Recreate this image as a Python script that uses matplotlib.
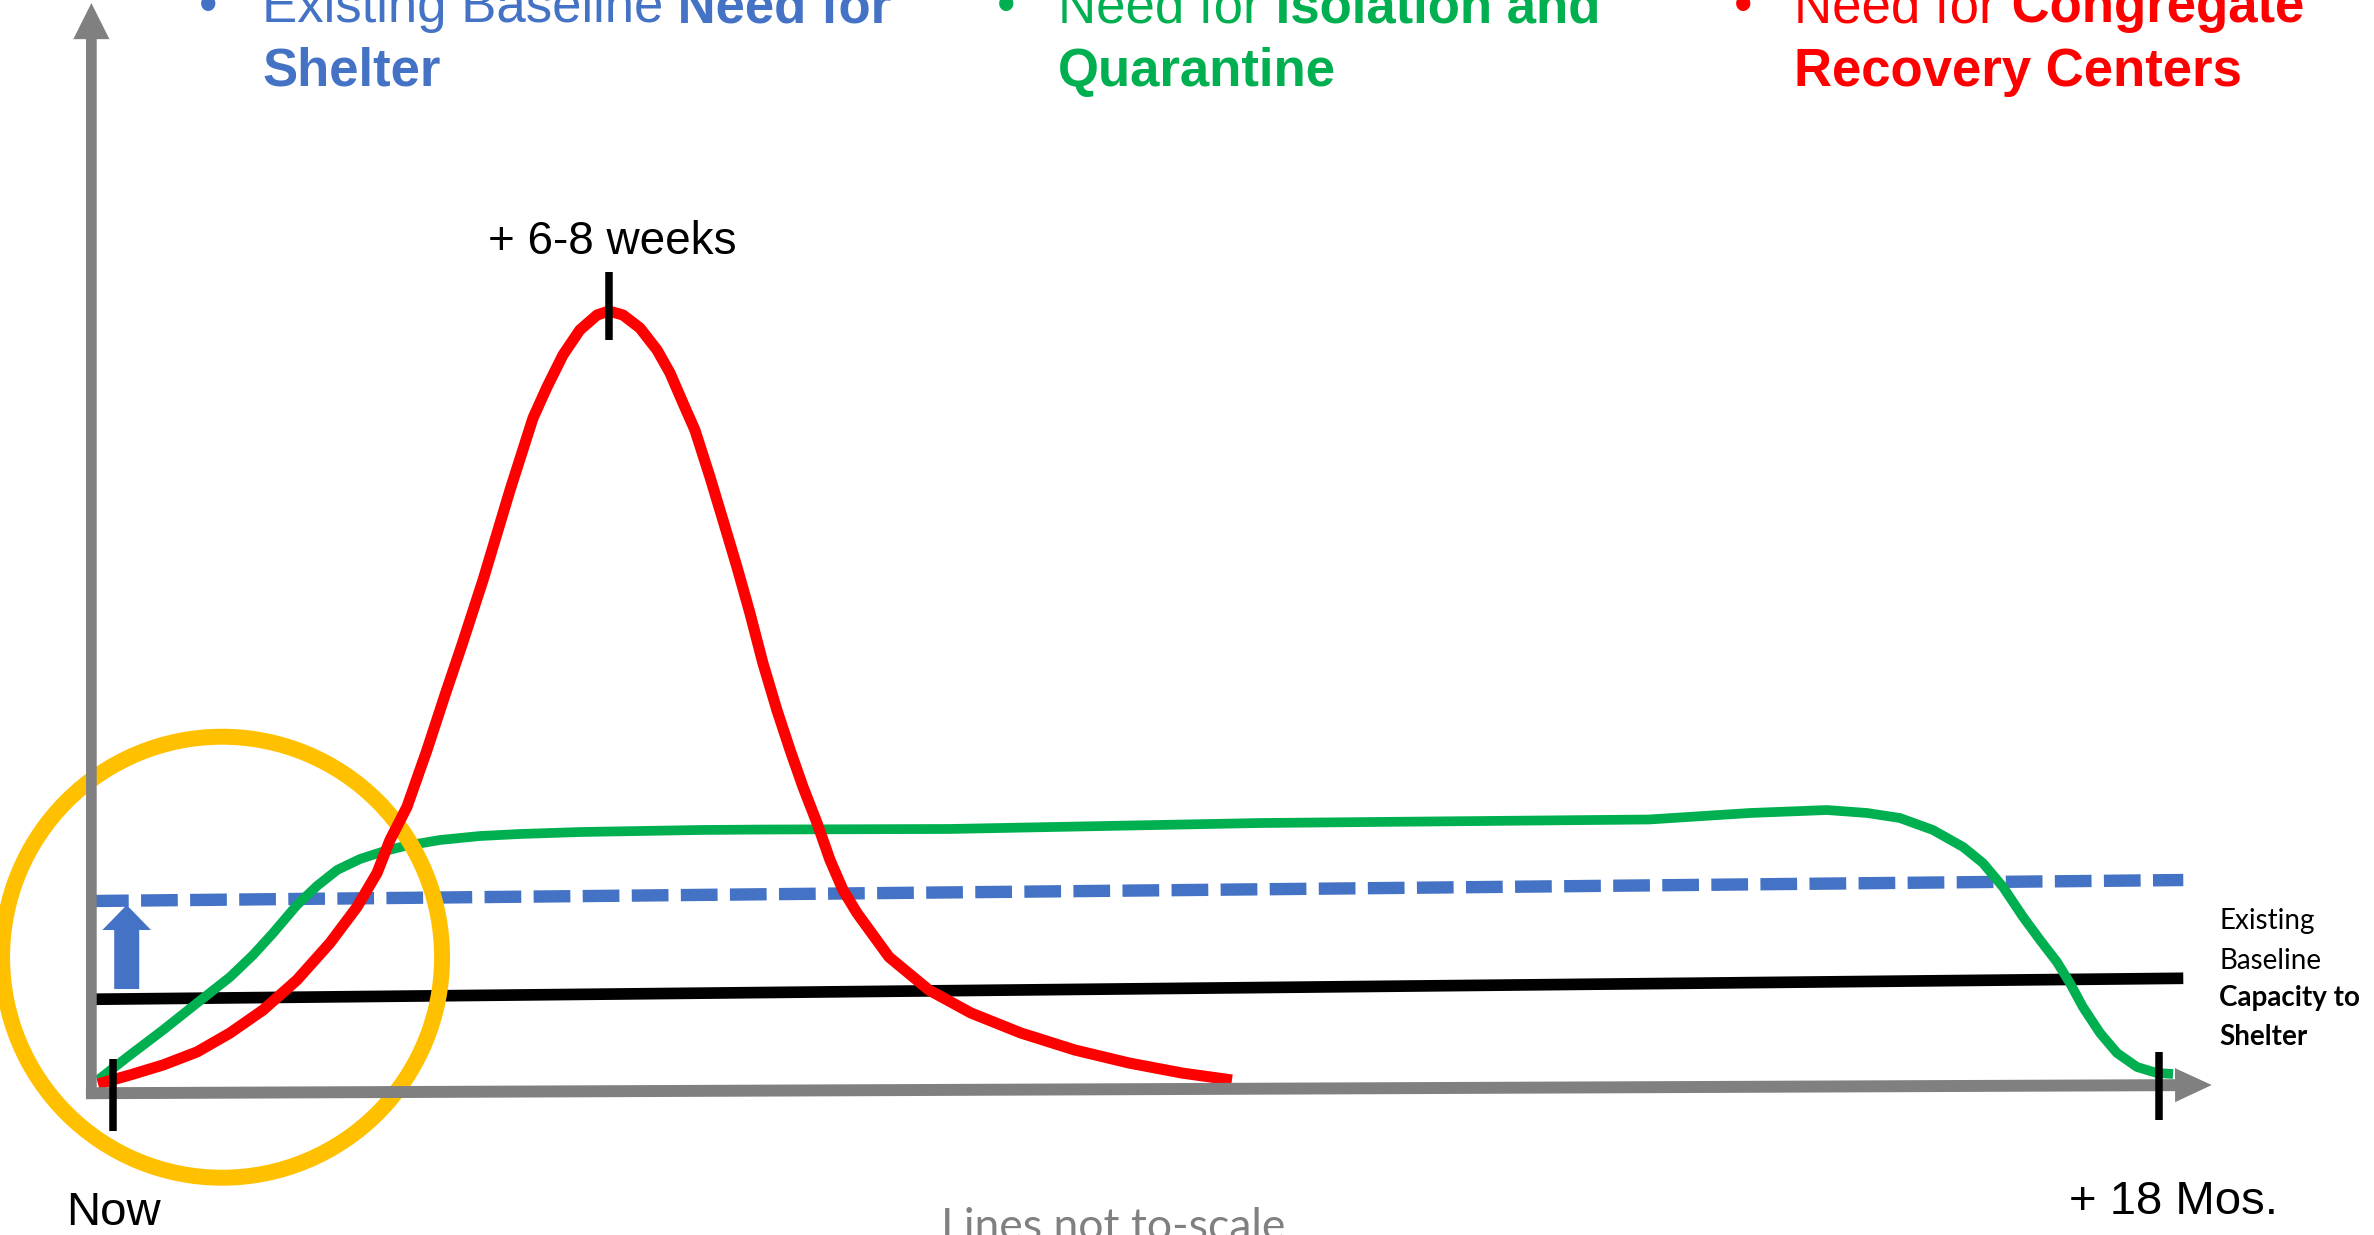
import matplotlib
matplotlib.use("Agg")
import matplotlib.pyplot as plt
from matplotlib.patches import Ellipse, FancyArrowPatch

plt.rcParams["font.family"] = ["Liberation Sans", "DejaVu Sans"]

# DATA
# time axis: 0 = now, 100 = +18 months (not to scale)
# need axis: 0 = none, 100 = peak of congregate recovery need

recovery_t = [0.29, 1.82, 3.40, 5.02, 6.60, 8.18, 9.80, 11.38, 12.67, 13.63,
              14.25, 15.06, 16.02, 16.88, 17.69, 18.70, 19.99, 21.09, 21.76, 22.52,
              23.33, 24.15, 24.72, 25.39, 26.20, 27.02, 27.64, 28.26, 28.83, 29.55,
              30.17, 30.84, 31.46, 32.08, 32.75, 33.38, 34.00, 34.67, 35.29, 35.91,
              36.58, 38.11, 40.02, 42.03, 44.42, 47.00, 49.59, 52.12, 54.51]
recovery_need = [1.15, 2.30, 3.58, 5.24, 7.66, 10.60, 14.43, 19.16, 23.75, 28.10,
                 32.31, 36.53, 43.81, 50.83, 57.22, 65.52, 77.01, 86.21, 90.17, 94.25,
                 97.45, 99.36, 99.87, 99.36, 97.70, 94.89, 91.95, 88.12, 84.67, 78.67,
                 73.18, 67.18, 61.30, 54.92, 48.91, 43.81, 39.08, 34.48, 29.76, 25.93,
                 22.99, 17.37, 13.15, 10.22, 7.66, 5.49, 3.83, 2.55, 1.66]

isolation_t = [0.29, 1.82, 3.40, 5.02, 6.60, 7.70, 8.66, 9.80, 10.76, 11.72,
               12.82, 14.01, 14.97, 16.64, 18.55, 20.47, 23.33, 29.07, 32.18, 41.03,
               55.85, 74.45, 79.28, 82.96, 84.88, 86.45, 88.03, 89.47, 90.42, 91.38,
               92.34, 93.15, 93.96, 94.58, 95.20, 96.02, 96.83, 97.79, 98.74, 99.51]
isolation_need = [1.66, 4.85, 8.05, 11.49, 14.81, 17.62, 20.43, 24.01, 26.44, 28.48,
                  29.89, 30.91, 31.55, 32.31, 32.82, 33.08, 33.33, 33.59, 33.65, 33.72,
                  34.48, 34.93, 35.76, 36.14, 35.76, 35.12, 33.59, 31.42, 29.37, 26.31,
                  22.48, 19.54, 16.73, 14.05, 10.98, 7.66, 5.11, 3.32, 2.55, 2.43]

shelter_need_t = [0, 100]
shelter_need = [24.52, 27.20]

capacity_t = [0, 100]
capacity = [11.97, 14.65]

tick_t = [1.00, 24.72, 98.84]
tick_lo = [-4.85, 96.17, -3.45]
tick_hi = [4.30, 104.89, 5.24]

BLUE = "#4472C4"
GREEN = "#00B050"
RED = "#FF0000"
ORANGE = "#FFC000"
GRAY = "#808080"

# FIGURE

fig = plt.figure(figsize=(23.74, 12.35), dpi=100)
ax = fig.add_axes([0, 0, 1, 1])
ax.set_xlim(-4.399, 109.12)
ax.set_ylim(-18.135, 139.59)
ax.axis("off")


def arrow(x0, y0, x1, y1, style, color, z=4):
    ax.add_patch(FancyArrowPatch((x0, y0), (x1, y1), arrowstyle=style,
                                 mutation_scale=1, color=color, lw=0,
                                 shrinkA=0, shrinkB=0, zorder=z))


# lines
ax.plot(shelter_need_t, shelter_need, color=BLUE, lw=8.9, dashes=(2.97, 1.0), zorder=2)
ax.plot(capacity_t, capacity, color="black", lw=8.4, solid_capstyle="butt", zorder=2)
ax.plot(isolation_t, isolation_need, color=GREEN, lw=7.0, solid_capstyle="butt",
        solid_joinstyle="round", zorder=3)

# "now" circle
ax.add_patch(Ellipse((6.22, 17.34), 21.04, 56.32, fill=False, edgecolor=ORANGE,
                     lw=11.5, zorder=3.5))

ax.plot(recovery_t, recovery_need, color=RED, lw=8.0, solid_capstyle="butt",
        solid_joinstyle="round", zorder=3.7)

# axes with arrow heads
arrow(-0.03, -0.77, -0.03, 139.2, "simple,head_length=26,head_width=26,tail_width=7.7", GRAY)
arrow(-0.29, -0.03, 101.36, 1.02, "simple,head_length=26.4,head_width=24.5,tail_width=8.6", GRAY)

# increase in baseline need
arrow(1.66, 13.28, 1.66, 24.01, "simple,head_length=18,head_width=35,tail_width=18", BLUE)

# milestone ticks
for t, lo, hi in zip(tick_t, tick_lo, tick_hi):
    ax.plot([t, t], [lo, hi], color="black", lw=5.4, solid_capstyle="butt", zorder=5)

ax.text(24.87, 107.15, "+ 6-8 weeks", fontsize=33, ha="center", va="baseline")
ax.text(1.04, -16.86, "Now", fontsize=34, ha="center", va="baseline")
ax.text(99.51, -15.40, "+ 18 Mos.", fontsize=34, ha="center", va="baseline")
ax.text(48.84, -18.77, "Lines not to-scale", fontsize=32, ha="center", va="baseline",
        color=GRAY, family=["Lato", "DejaVu Sans"])

side_lines = [("Existing", "normal", 20.89), ("Baseline", "normal", 15.89),
              ("Capacity to", "bold", 11.11), ("Shelter", "bold", 6.17)]
for s, w, y in side_lines:
    ax.text(101.73, y, s, fontsize=20, fontweight=w, ha="left", va="baseline",
            family=["Lato", "DejaVu Sans"])


# HEADERS

def rich(x, y, parts, color, size=38):
    t = ax.text(x, y, parts[0][0], color=color, fontsize=size, fontweight=parts[0][1],
                ha="left", va="baseline")
    for s, w in parts[1:]:
        t = ax.annotate(s, xy=(1, 0), xycoords=t, color=color, fontsize=size,
                        fontweight=w, ha="left", va="bottom")


headers = [
    (5.55, 8.13, BLUE, [("Existing Baseline", "normal"), (" Need for", "bold")],
     [("Shelter", "bold")]),
    (43.71, 46.19, GREEN, [("Need for", "normal"), (" Isolation and", "bold")],
     [("Quarantine", "bold")]),
    (78.95, 81.39, RED, [("Need for", "normal"), (" Congregate", "bold")],
     [("Recovery Centers", "bold")]),
]
for bx, tx, col, line1, line2 in headers:
    ax.text(bx, 136.78, "\u2022", color=col, fontsize=38, ha="center", va="baseline")
    rich(tx, 136.78, line1, col)
    rich(tx, 128.61, line2, col)

fig.savefig("out.png", dpi=100)
